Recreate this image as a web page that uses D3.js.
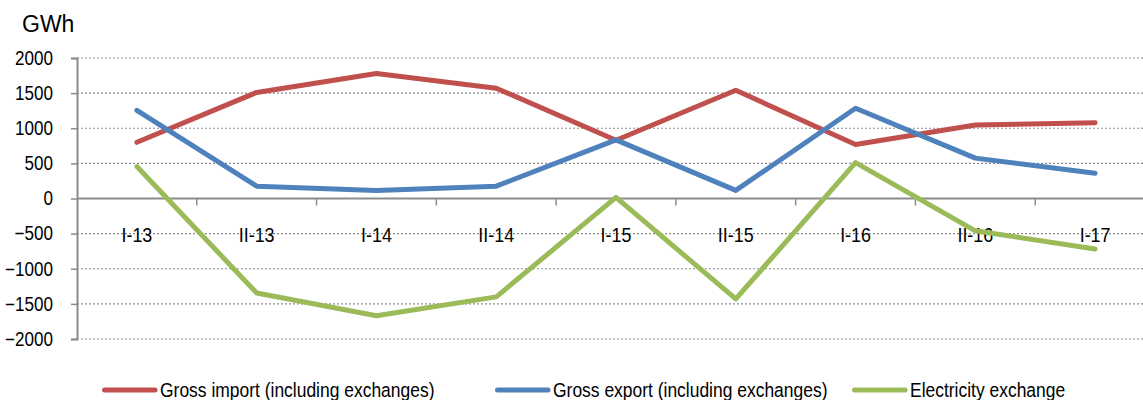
<!DOCTYPE html>
<html>
<head>
  <meta charset="utf-8">
  <script src="https://d3js.org/d3.v7.min.js"></script>
  <style>
    body { margin: 0; background: #fff; }
    svg { font-family: "Liberation Sans", Arial, sans-serif; }
  </style>
</head>
<body>
<script>
  // chart data
  var periods = ["I-13", "II-13", "I-14", "II-14", "I-15", "II-15", "I-16", "II-16", "I-17"];
  var grossImport = [800, 1510, 1780, 1570, 830, 1540, 770, 1045, 1080];
  var grossExport = [1255, 175, 115, 175, 835, 115, 1285, 575, 360];
  var exchange = [455, -1345, -1670, -1400, 15, -1430, 510, -460, -720];
  var yTicks = [2000, 1500, 1000, 500, 0, -500, -1000, -1500, -2000];
  var seriesNames = ["Gross import (including exchanges)", "Gross export (including exchanges)", "Electricity exchange"];
  var colors = ["#C0504D", "#4F81BD", "#9BBB59"];

  var width = 1143, height = 400;
  var marginLeft = 77, marginTop = 58, plotW = 1078, plotH = 281;
  var narrow = " scale(0.895,1)";   // the original font is a bit condensed

  var svg = d3.select("body").append("svg")
      .attr("width", width)
      .attr("height", height);

  var x = d3.scaleBand().domain(periods).range([marginLeft, marginLeft + plotW]);
  var y = d3.scaleLinear().domain([-2000, 2000]).range([marginTop + plotH, marginTop]);

  // dotted gridlines
  svg.append("g")
    .selectAll("line")
    .data(yTicks.filter(function (d) { return d !== 0; }))
    .enter().append("line")
      .attr("x1", marginLeft).attr("x2", width)
      .attr("y1", function (d) { return y(d); })
      .attr("y2", function (d) { return y(d); })
      .attr("stroke", "#8c8c8c")
      .attr("stroke-width", 1.2)
      .attr("stroke-dasharray", "2,2");

  // y axis
  var yAxis = svg.append("g")
      .attr("transform", "translate(" + marginLeft + ",0)")
      .call(d3.axisLeft(y).tickValues(yTicks).tickFormat(d3.format("d")).tickSize(6));
  yAxis.select(".domain").attr("stroke", "#8c8c8c").attr("stroke-width", 2);
  yAxis.selectAll(".tick line").attr("stroke", "#8c8c8c").attr("stroke-width", 1.5);
  yAxis.selectAll("text")
      .attr("x", 0)
      .attr("transform", "translate(-24,0) scale(0.875,1)")
      .attr("font-size", 19.5).attr("fill", "#000")
      .attr("font-family", "Liberation Sans, Arial, sans-serif");

  // x axis on zero line
  var xAxis = svg.append("g").attr("transform", "translate(0," + y(0) + ")");
  xAxis.append("line")
      .attr("x1", marginLeft).attr("x2", width)
      .attr("stroke", "#8c8c8c").attr("stroke-width", 2);
  xAxis.selectAll("line.tk")
    .data(periods)
    .enter().append("line")
      .attr("class", "tk")
      .attr("x1", function (d) { return x(d) + x.bandwidth(); })
      .attr("x2", function (d) { return x(d) + x.bandwidth(); })
      .attr("y1", 0).attr("y2", 7)
      .attr("stroke", "#8c8c8c").attr("stroke-width", 1.5);
  xAxis.selectAll("text")
    .data(periods)
    .enter().append("text")
      .attr("transform", function (d) {
        return "translate(" + (x(d) + x.bandwidth() / 2) + ",43)" + narrow;
      })
      .attr("text-anchor", "middle")
      .attr("font-size", 20)
      .text(function (d) { return d; });

  // lines
  var line = d3.line()
      .x(function (d, i) { return x(periods[i]) + x.bandwidth() / 2; })
      .y(function (d) { return y(d); });

  [grossImport, grossExport, exchange].forEach(function (s, k) {
    svg.append("path")
      .datum(s)
      .attr("d", line)
      .attr("fill", "none")
      .attr("stroke", colors[k])
      .attr("stroke-width", 5)
      .attr("stroke-linejoin", "round")
      .attr("stroke-linecap", "round");
  });

  // unit label
  svg.append("text")
      .attr("x", 22).attr("y", 32)
      .attr("font-size", 23)
      .text("GWh");

  // legend
  var legendX = [102, 495, 852];
  var legend = svg.selectAll("g.legend")
    .data(seriesNames)
    .enter().append("g")
      .attr("class", "legend")
      .attr("transform", function (d, i) { return "translate(" + legendX[i] + ",390)"; });
  legend.append("line")
      .attr("x1", 2.5).attr("x2", 53)
      .attr("stroke", function (d, i) { return colors[i]; })
      .attr("stroke-width", 5)
      .attr("stroke-linecap", "round");
  legend.append("text")
      .attr("transform", "translate(58,6.5)" + narrow)
      .attr("font-size", 19.5)
      .text(function (d) { return d; });
</script>
</body>
</html>
